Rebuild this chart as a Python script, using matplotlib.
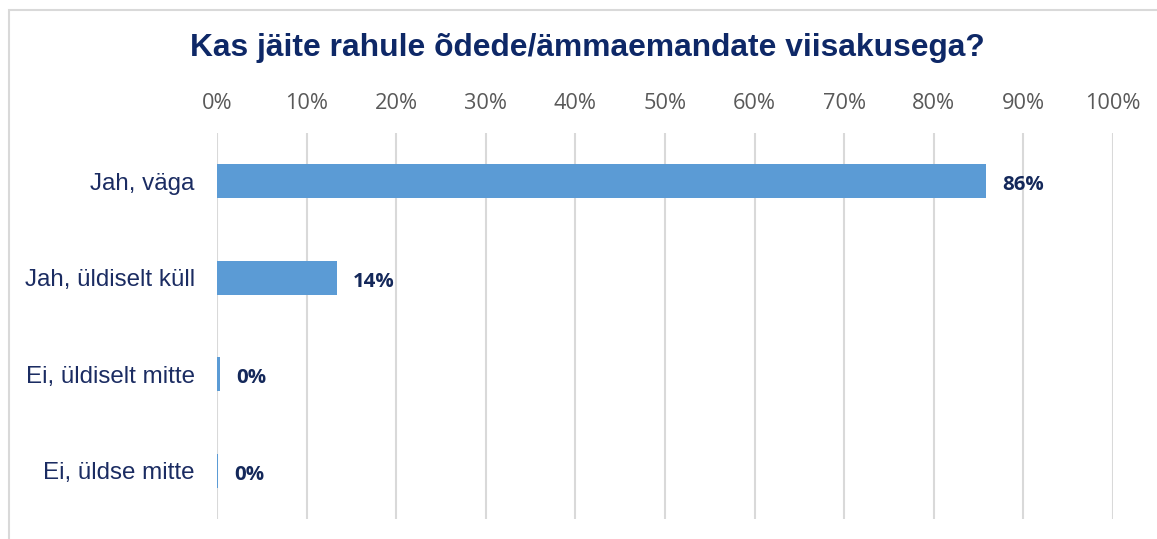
import matplotlib
matplotlib.use("Agg")
import matplotlib.pyplot as plt
from matplotlib.patches import Rectangle
from matplotlib.ticker import FuncFormatter, MultipleLocator

title = "Kas jäite rahule õdede/ämmaemandate viisakusega?"
categories = ["Jah, väga", "Jah, üldiselt küll", "Ei, üldiselt mitte", "Ei, üldse mitte"]
values = [0.858, 0.134, 0.0035, 0.001]
labels = ["86%", "14%", "0%", "0%"]

W, H = 1157, 539
fig = plt.figure(figsize=(W / 100, H / 100), dpi=100)
fig.patch.set_facecolor("white")

# outer chart border (top and left visible)
fig.add_artist(Rectangle((8.5 / W, -0.1), 1.2, 1 - 9.5 / H + 0.1, transform=fig.transFigure,
                         fill=False, edgecolor="#D9D9D9", linewidth=1.5))

ax = fig.add_axes([217 / W, 1 - 519 / H, (1113 - 217) / W, (519 - 133) / H])
ypos = list(range(len(categories)))
ax.barh(ypos, values, height=0.35, color="#5B9BD5", zorder=3)
ax.set_xlim(0, 1)
ax.set_ylim(len(categories) - 0.5, -0.5)
ax.xaxis.set_major_locator(MultipleLocator(0.1))
ax.xaxis.set_major_formatter(FuncFormatter(lambda v, p: f"{v*100:.0f}%"))
ax.xaxis.tick_top()
ax.grid(axis="x", color="#D9D9D9", linewidth=1.5, zorder=0)
for s in ax.spines.values():
    s.set_visible(False)
ax.tick_params(axis="x", length=0, pad=14, labelsize=15.7, labelcolor="#595959")
for t in ax.get_xticklabels():
    t.set_fontfamily("Open Sans")
ax.set_yticks(ypos)
ax.set_yticklabels(categories, fontfamily="Liberation Sans", fontsize=17.4, color="#1B2C62")
ax.tick_params(axis="y", length=0, pad=16)

for y, v, lab in zip(ypos, values, labels):
    ax.text(v + 0.018, y + 0.04, lab, va="center", ha="left", fontfamily="Open Sans",
            fontweight="bold", fontsize=14.7, color="#14285A")

fig.text(587 / W, 1 - 48 / H, title, ha="center", va="center", fontfamily="Liberation Sans",
         fontweight="bold", fontsize=22.9, color="#0E2867")

fig.savefig("out.png", dpi=100)
